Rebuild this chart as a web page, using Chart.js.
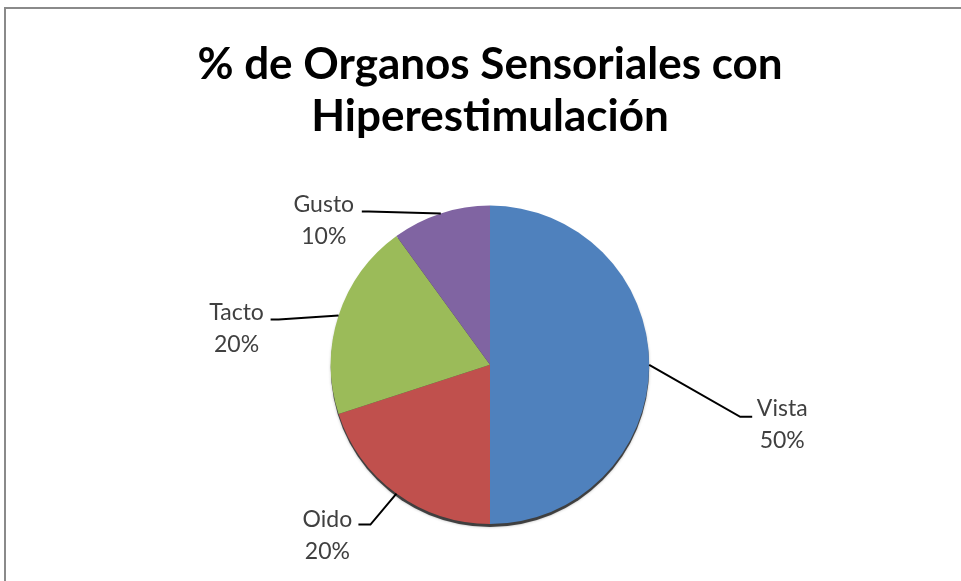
<!DOCTYPE html>
<html>
<head>
<meta charset="utf-8">
<script src="https://cdn.jsdelivr.net/npm/chart.js@4"></script>
<style>
  html, body { margin: 0; padding: 0; background: #fff; }
  #wrap { width: 961px; height: 581px; position: relative; }
</style>
</head>
<body>
<div id="wrap"><canvas id="chart"></canvas></div>
<script>
// --- data ---
const titleLines = ['% de Organos Sensoriales con', 'Hiperestimulación'];
const categories = ['Vista', 'Oido', 'Tacto', 'Gusto'];
const percents = [50, 20, 20, 10];
const colors = ['#4F81BD', '#C0504D', '#9BBB59', '#8064A2'];

// leader line layout per slice: elbow offset from arc edge, end offset from elbow,
// text centre offset from end (x), first line offset (y)
const leaderLayout = [
  { ex: 91, ey: 52, hx: 12, tx: 30, ty: -8 },
  { ex: -26, ey: 31, hx: -12, tx: -31, ty: -5 },
  { ex: -60, ey: 4, hx: -8, tx: -34, ty: -7 },
  { ex: -72, ey: -2, hx: -7, tx: -38, ty: -7 },
];

const FONT = 'Lato, "Open Sans", sans-serif';

// gray frame of the original chart object
const framePlugin = {
  id: 'frame',
  beforeDraw(chart) {
    const ctx = chart.ctx;
    ctx.save();
    ctx.fillStyle = '#fff';
    ctx.fillRect(0, 0, chart.width, chart.height);
    ctx.strokeStyle = '#8a8a8a';
    ctx.lineWidth = 2;
    ctx.strokeRect(5, 8, chart.width + 20, chart.height + 20);
    ctx.restore();
  }
};

// slight 3D rim under the pie
const rimPlugin = {
  id: 'rim',
  beforeDatasetsDraw(chart) {
    const arc = chart.getDatasetMeta(0).data[0];
    if (!arc) return;
    const { x, y, outerRadius } = arc.getProps(['x', 'y', 'outerRadius'], true);
    const ctx = chart.ctx;
    ctx.save();
    ctx.fillStyle = 'rgba(30,30,30,0.8)';
    ctx.shadowColor = 'rgba(0,0,0,0.35)';
    ctx.shadowBlur = 3;
    ctx.beginPath();
    ctx.arc(x, y + 3, outerRadius, 0, Math.PI * 2);
    ctx.fill();
    ctx.restore();
  }
};

// data labels with leader lines
const leaderPlugin = {
  id: 'leaders',
  afterDatasetsDraw(chart) {
    const ctx = chart.ctx;
    const meta = chart.getDatasetMeta(0);
    ctx.save();
    meta.data.forEach((arc, i) => {
      const p = arc.getProps(['x', 'y', 'startAngle', 'endAngle', 'outerRadius'], true);
      const mid = (p.startAngle + p.endAngle) / 2;
      const sx = p.x + Math.cos(mid) * p.outerRadius;
      const sy = p.y + Math.sin(mid) * p.outerRadius;
      const L = leaderLayout[i];
      const bx = sx + L.ex, by = sy + L.ey;
      const endX = bx + L.hx;
      ctx.strokeStyle = '#000';
      ctx.lineWidth = 2;
      ctx.beginPath();
      ctx.moveTo(sx, sy);
      ctx.lineTo(bx, by);
      ctx.lineTo(endX, by);
      ctx.stroke();

      ctx.fillStyle = '#404040';
      ctx.font = '23px ' + FONT;
      ctx.textAlign = 'center';
      ctx.textBaseline = 'middle';
      const cx = endX + L.tx;
      ctx.fillText(categories[i], cx, by + L.ty);
      ctx.fillText(percents[i] + '%', cx, by + L.ty + 32);
    });
    ctx.restore();
  }
};

new Chart(document.getElementById('chart'), {
  type: 'pie',
  data: {
    labels: categories,
    datasets: [{
      data: percents,
      backgroundColor: colors,
      borderWidth: 0,
    }],
  },
  options: {
    responsive: true,
    maintainAspectRatio: false,
    animation: false,
    layout: { padding: { top: 0, bottom: 57, left: 100, right: 81 } },
    plugins: {
      legend: { display: false },
      tooltip: { enabled: false },
      title: {
        display: true,
        text: titleLines,
        color: '#000',
        font: { family: FONT, size: 44, weight: 'bold', lineHeight: 1.2 },
        padding: { top: 38, bottom: 62 },
      },
    },
  },
  plugins: [framePlugin, rimPlugin, leaderPlugin],
});
</script>
</body>
</html>
